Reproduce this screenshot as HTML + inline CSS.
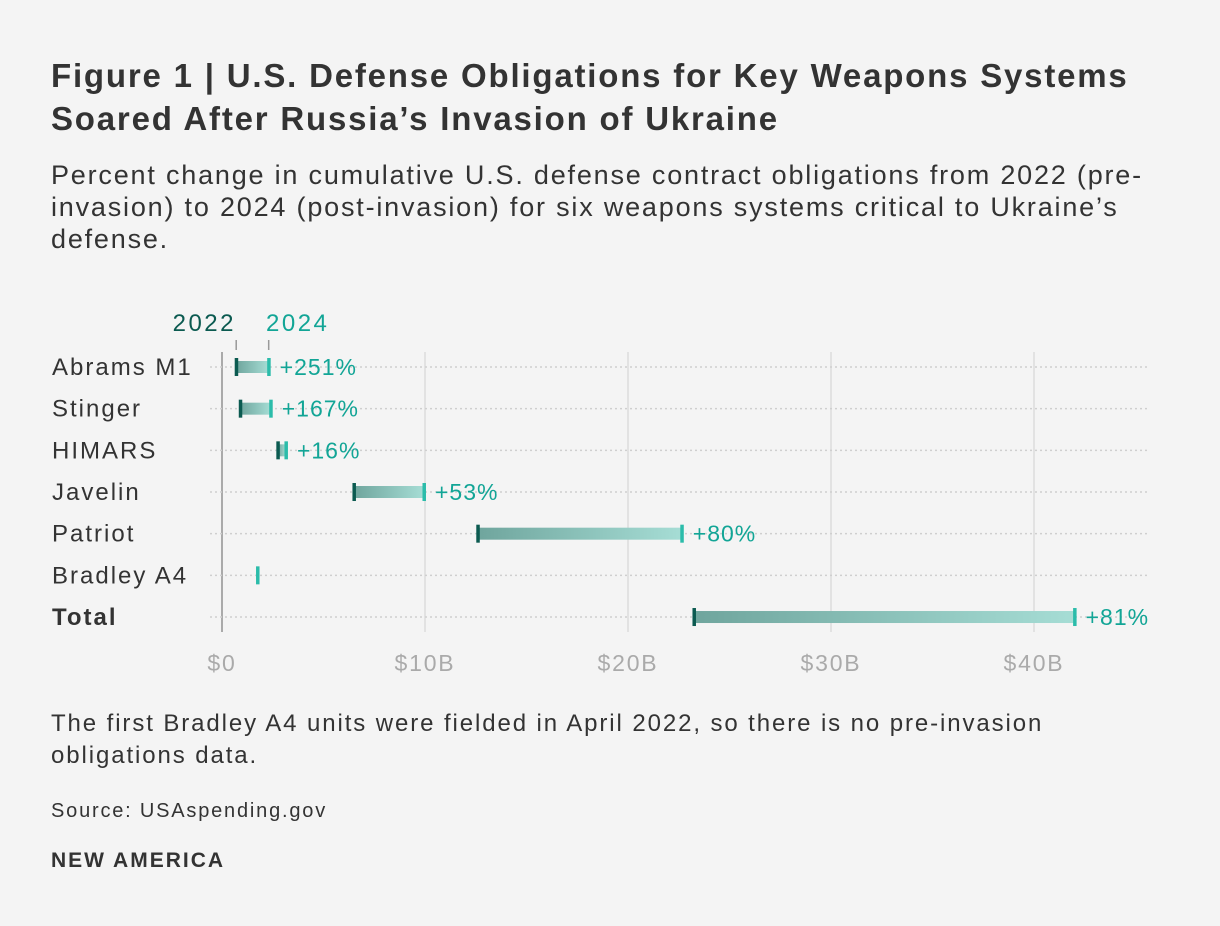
<!DOCTYPE html>
<html><head><meta charset="utf-8"><style>
body{margin:0;width:1220px;height:926px;background:#f4f4f4;font-family:"Liberation Sans",sans-serif;color:#333;position:relative;overflow:hidden}
.t{position:absolute;left:51px;top:54px;font-size:33px;letter-spacing:1.8px;font-weight:bold;line-height:43px;color:#333;margin:0;white-space:nowrap}
.s{position:absolute;left:51px;top:159px;font-size:27px;letter-spacing:1.8px;line-height:32px;white-space:nowrap;color:#333}
.n{position:absolute;left:51px;top:708px;font-size:24px;letter-spacing:1.9px;line-height:32px;color:#333;white-space:nowrap}
.src{position:absolute;left:51px;top:800px;font-size:20px;letter-spacing:1.8px;color:#333}
.brand{position:absolute;left:51px;top:849px;font-size:21px;letter-spacing:2px;font-weight:bold;color:#333}
svg{position:absolute;left:0;top:0}
</style></head><body>
<h1 class="t">Figure 1 | U.S. Defense Obligations for Key Weapons Systems<br>Soared After Russia’s Invasion of Ukraine</h1>
<div class="s">Percent change in cumulative U.S. defense contract obligations from 2022 (pre-<br>invasion) to 2024 (post-invasion) for six weapons systems critical to Ukraine’s<br>defense.</div>
<svg id="c" width="1220" height="926">
<defs><linearGradient id="g" x1="0" x2="1"><stop offset="0" stop-color="#6fa59d"/><stop offset="1" stop-color="#a6ddd5"/></linearGradient></defs>
</svg>
<div class="n">The first Bradley A4 units were fielded in April 2022, so there is no pre-invasion<br>obligations data.</div>
<div class="src">Source: USAspending.gov</div>
<div class="brand">NEW AMERICA</div>
<script>
const categories=["Abrams M1","Stinger","HIMARS","Javelin","Patriot","Bradley A4","Total"];
const values2022=[0.7,0.9,2.75,6.5,12.6,null,23.25];
const values2024=[2.3,2.4,3.15,9.95,22.65,1.75,42.0];
const pctLabels=["+251%","+167%","+16%","+53%","+80%","","+81%"];
const tickValues=[0,10,20,30,40];
const tickLabels=["$0","$10B","$20B","$30B","$40B"];
const svg=document.getElementById('c');const NS="http://www.w3.org/2000/svg";
const x=v=>222+v*20.3;const y=i=>367+i*41.67;
function mk(t,a,p){const e=document.createElementNS(NS,t);for(const k in a)e.setAttribute(k,a[k]);(p||svg).appendChild(e);return e;}
tickValues.forEach((v,i)=>{
 const l=mk('line',{x1:x(v),x2:x(v),y1:352,y2:632,stroke:i?'#dcdcdc':'#aaa','stroke-width':i?1.5:2});
 
 const t=mk('text',{x:x(v),y:671,'text-anchor':'middle','font-size':23,'letter-spacing':1.8,fill:'#aaa'});t.textContent=tickLabels[i];
 
});
categories.forEach((c,i)=>{
 const yy=y(i);
 const d=mk('line',{x1:210,x2:1148,y1:yy,y2:yy,stroke:'#cfcfcf','stroke-width':1.5,'stroke-dasharray':'2 3'});
 
 const t=mk('text',{x:52,y:yy+8,'font-size':24,'letter-spacing':2,fill:'#333','font-weight':i==6?'bold':'normal'});t.textContent=c;
 
 const a=values2022[i],b=values2024[i];
 if(a!==null){const r=mk('rect',{x:x(a),y:yy-6,width:x(b)-x(a),height:12,fill:'url(#g)'});
  
  const m=mk('rect',{x:x(a)-1.5,y:yy-9,width:3.5,height:18,fill:'#0b5a50'});
  }
 const m2=mk('rect',{x:x(b)-1.5,y:yy-9,width:3.5,height:18,fill:'#2bbcaa'});
 
 if(pctLabels[i]){const p=mk('text',{x:x(b)+11,y:yy+8,'font-size':23,'letter-spacing':1,fill:'#12a596'});p.textContent=pctLabels[i];
  }
});
const lg=[[values2022[0],'2022','#0b5a50','end',236],[values2024[0],'2024','#12a596','start',266]];
lg.forEach(g=>{const l=mk('line',{x1:x(g[0]),x2:x(g[0]),y1:340,y2:350,stroke:'#999','stroke-width':1.5});
 
 const t=mk('text',{x:g[4],y:331,'text-anchor':g[3],'font-size':24,'letter-spacing':2.5,fill:g[2]});t.textContent=g[1];
 });
</script>
</body></html>
